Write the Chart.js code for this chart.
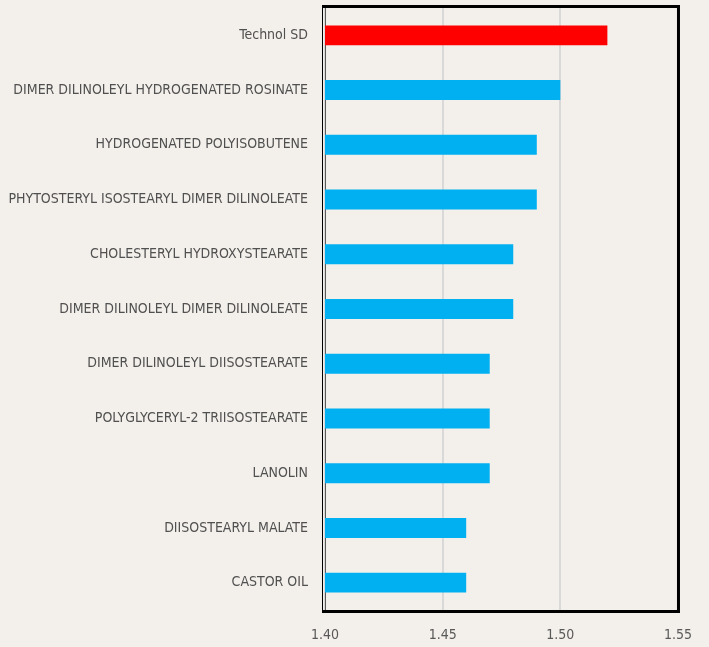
<!DOCTYPE html>
<html>
<head>
<meta charset="utf-8">
<script src="https://cdn.jsdelivr.net/npm/chart.js@4/dist/chart.umd.min.js"></script>
<style>
  html, body { margin: 0; padding: 0; background: #f3f0eb; }
  .wrap { width: 709px; height: 647px; }
</style>
</head>
<body>
<div class="wrap"><canvas id="chart"></canvas></div>
<script>
const categories = [
  "Technol SD",
  "DIMER DILINOLEYL HYDROGENATED ROSINATE",
  "HYDROGENATED POLYISOBUTENE",
  "PHYTOSTERYL ISOSTEARYL DIMER DILINOLEATE",
  "CHOLESTERYL HYDROXYSTEARATE",
  "DIMER DILINOLEYL DIMER DILINOLEATE",
  "DIMER DILINOLEYL DIISOSTEARATE",
  "POLYGLYCERYL-2 TRIISOSTEARATE",
  "LANOLIN",
  "DIISOSTEARYL MALATE",
  "CASTOR OIL",
];
const values = [1.52, 1.50, 1.49, 1.49, 1.48, 1.48, 1.47, 1.47, 1.47, 1.46, 1.46];
const xTicks = [1.40, 1.45, 1.50, 1.55];

const labelFont = { family: "'Liberation Sans Narrow', 'DejaVu Sans Condensed', 'Roboto Condensed', Arial, sans-serif", size: 14 };

// black frame round the plot, thin on the left like the original
const frame = {
  id: "frame",
  afterDraw(chart) {
    const { ctx, chartArea: a } = chart;
    ctx.save();
    ctx.strokeStyle = "#000";
    ctx.lineWidth = 3;
    ctx.beginPath();
    ctx.moveTo(a.left - 3, a.top - 1.5);
    ctx.lineTo(a.right + 0.5, a.top - 1.5);
    ctx.lineTo(a.right + 0.5, a.bottom + 1.5);
    ctx.lineTo(a.left - 3, a.bottom + 1.5);
    ctx.stroke();
    ctx.lineWidth = 1;
    ctx.beginPath();
    ctx.moveTo(a.left - 2.5, a.top - 3);
    ctx.lineTo(a.left - 2.5, a.bottom + 3);
    ctx.stroke();
    ctx.restore();
  },
};

new Chart(document.getElementById("chart"), {
  type: "bar",
  data: {
    labels: categories,
    datasets: [
      {
        data: values,
        backgroundColor: categories.map((c, i) => (i === 0 ? "#ff0000" : "#00b0f0")),
        borderWidth: 0,
        categoryPercentage: 1,
        barPercentage: 0.365,
      },
    ],
  },
  options: {
    indexAxis: "y",
    responsive: true,
    maintainAspectRatio: false,
    animation: false,
    layout: { padding: { top: 8, right: 31, left: 0, bottom: 0 } },
    scales: {
      x: {
        min: 1.40,
        max: 1.55,
        afterBuildTicks: (s) => { s.ticks = xTicks.map((v) => ({ value: v })); },
        afterFit: (s) => { s.height = 37; },
        grid: { color: "#d9d9d9", lineWidth: 2, drawTicks: false },
        border: { display: false },
        ticks: {
          color: "#595959",
          font: labelFont,
          padding: 17,
          callback: (v) => v.toFixed(2),
        },
      },
      y: {
        afterFit: (s) => { s.width = 325; s.paddingTop = 0; s.paddingBottom = 0; },
        grid: { display: false, drawTicks: false },
        border: { display: true, color: "#595959", width: 1 },
        ticks: { color: "#505050", font: labelFont, padding: 17 },
      },
    },
    plugins: {
      legend: { display: false },
      tooltip: { enabled: false },
    },
  },
  plugins: [frame],
});
</script>
</body>
</html>
